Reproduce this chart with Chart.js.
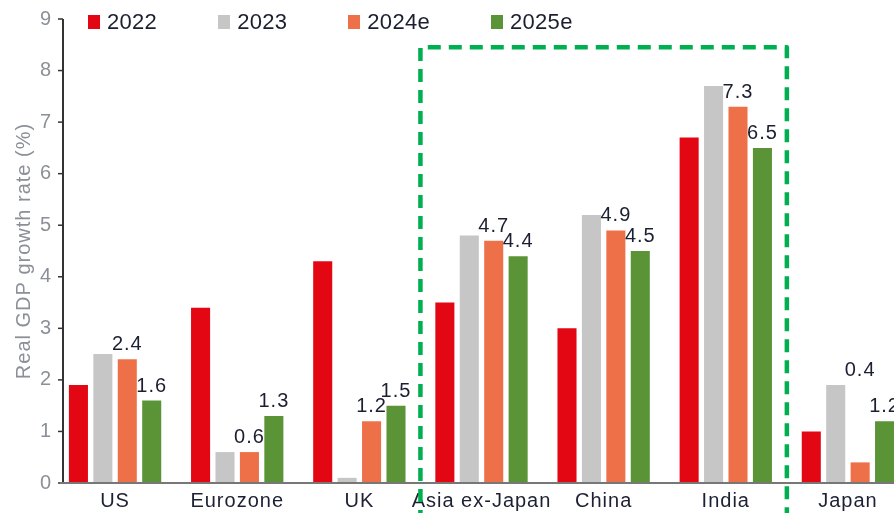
<!DOCTYPE html>
<html>
<head>
<meta charset="utf-8">
<script src="https://cdn.jsdelivr.net/npm/chart.js@4.4.1/dist/chart.umd.min.js"></script>
<style>
  html, body { margin: 0; padding: 0; overflow: hidden; background: #fff; }
  #wrap { position: relative; width: 894px; height: 513px; overflow: hidden; }
  #chart { position: absolute; left: 0; top: 0; }
  #legend {
    position: absolute; top: 11px; left: 88px;
    display: flex; gap: 61px;
    font: 22px "Liberation Sans", Arial, sans-serif; line-height: 22px;
    letter-spacing: 0.3px; color: #1b1f30;
  }
  #legend .item { display: flex; align-items: center; }
  #legend .box { width: 12px; height: 14px; margin-right: 7px; }
</style>
</head>
<body>
<div id="wrap">
  <canvas id="chart" width="909" height="513"></canvas>
  <div id="legend"></div>
</div>
<script>
// -----------------------------
// Data
// -----------------------------
const categories = ["US", "Eurozone", "UK", "Asia ex-Japan", "China", "India", "Japan"]
const seriesNames = ["2022", "2023", "2024e", "2025e"]

const gdp2022 = [1.9, 3.4, 4.3, 3.5, 3.0, 6.7, 1.0]
const gdp2023 = [2.5, 0.6, 0.1, 4.8, 5.2, 7.7, 1.9]
const gdp2024e = [2.4, 0.6, 1.2, 4.7, 4.9, 7.3, 0.4]
const gdp2025e = [1.6, 1.3, 1.5, 4.4, 4.5, 6.5, 1.2]

const yTicks = [0, 1, 2, 3, 4, 5, 6, 7, 8, 9]

// series that carry value labels, and the highlighted block of regions
const labelledSeries = ["2024e", "2025e"]
const boxFrom = "Asia ex-Japan"
const boxTo = "India"
const boxTop = 8.45

// -----------------------------
// Styles
// -----------------------------
const colors = ["#e30613", "#c6c6c6", "#ee7049", "#5b9337"]
const FONT = '"Liberation Sans", Arial, sans-serif'
Chart.defaults.font.family = FONT

// -----------------------------
// Legend (HTML)
// -----------------------------
const legendEl = document.getElementById("legend")
seriesNames.forEach((name, i) => {
  const item = document.createElement("div")
  item.className = "item"
  item.innerHTML = `<span class="box" style="background:${colors[i]}"></span><span>${name}</span>`
  legendEl.appendChild(item)
})

// -----------------------------
// Extras: axes lines, dashed box, value labels
// -----------------------------
const extras = {
  id: "extras",
  beforeDraw(chart) {
    chart.ctx.letterSpacing = "1px"
  },
  afterDatasetsDraw(chart) {
    const { ctx, chartArea, scales } = chart
    const x = scales.x, y = scales.y
    const axisX = chartArea.left + 9
    const y0 = y.getPixelForValue(0)

    ctx.save()
    // y axis line + ticks
    ctx.strokeStyle = "#333"
    ctx.lineWidth = 2
    ctx.beginPath()
    ctx.moveTo(axisX, y.getPixelForValue(yTicks[yTicks.length - 1]))
    ctx.lineTo(axisX, y0)
    ctx.stroke()
    ctx.lineWidth = 1.5
    yTicks.forEach(t => {
      const py = y.getPixelForValue(t)
      ctx.beginPath()
      ctx.moveTo(axisX - 5, py)
      ctx.lineTo(axisX, py)
      ctx.stroke()
    })

    // x axis line
    ctx.strokeStyle = "#777"
    ctx.lineWidth = 2
    ctx.beginPath()
    ctx.moveTo(axisX - 3, y0)
    ctx.lineTo(chartArea.right, y0)
    ctx.stroke()

    // dashed highlight box
    const bl = x.getPixelForValue(categories.indexOf(boxFrom) - 0.5)
    const br = x.getPixelForValue(categories.indexOf(boxTo) + 0.5)
    const bt = y.getPixelForValue(boxTop)
    ctx.strokeStyle = "#00b050"
    ctx.lineWidth = 4.5
    ctx.setLineDash([13, 8])
    ctx.lineJoin = "round"
    ctx.beginPath()
    ctx.moveTo(bl, chart.height + 10)
    ctx.lineTo(bl, bt)
    ctx.lineTo(br, bt)
    ctx.lineTo(br, chart.height + 10)
    ctx.stroke()
    ctx.setLineDash([])

    // value labels
    ctx.fillStyle = "#1b1f30"
    ctx.font = "20px " + FONT
    ctx.textAlign = "center"
    ctx.textBaseline = "alphabetic"
    const data = chart.data.datasets.map(d => d.data)
    chart.data.datasets.forEach((ds, i) => {
      if (!labelledSeries.includes(ds.label)) return
      const meta = chart.getDatasetMeta(i)
      meta.data.forEach((bar, j) => {
        const v = ds.data[j]
        let anchor = v
        ;[i - 1, i + 1].forEach(k => {
          if (data[k] && data[k][j] > v + 1) anchor = Math.max(anchor, data[k][j])
        })
        ctx.fillText(v.toFixed(1), bar.x, y.getPixelForValue(anchor) - 9)
      })
    })
    ctx.restore()
  }
}

// -----------------------------
// Chart
// -----------------------------
const seriesValues = [gdp2022, gdp2023, gdp2024e, gdp2025e]

new Chart(document.getElementById("chart"), {
  type: "bar",
  data: {
    labels: categories,
    datasets: seriesNames.map((name, i) => ({
      label: name,
      data: seriesValues[i],
      backgroundColor: colors[i],
      borderWidth: 0,
      barPercentage: 0.78,
      categoryPercentage: 0.8
    }))
  },
  options: {
    responsive: false,
    animation: false,
    layout: { padding: { top: 19, left: 0, right: 0, bottom: 0 } },
    plugins: {
      legend: { display: false },
      tooltip: { enabled: false }
    },
    scales: {
      x: {
        grid: { display: false, drawTicks: false },
        border: { display: false },
        ticks: {
          color: "#1c2033",
          font: { size: 20 },
          padding: 6,
          maxRotation: 0,
          autoSkip: false
        },
        afterFit: s => { s.height = 30 }
      },
      y: {
        min: 0,
        max: 9,
        grid: { display: false, drawTicks: false },
        border: { display: false },
        afterBuildTicks: s => { s.ticks = yTicks.map(v => ({ value: v })) },
        ticks: {
          color: "#8b9098",
          font: { size: 20 },
          padding: 2
        },
        title: {
          display: true,
          text: "Real GDP growth rate (%)",
          color: "#8b9098",
          font: { size: 20 },
          padding: { top: 12, bottom: 0 }
        },
        afterFit: s => { s.width = 54 }
      }
    }
  },
  plugins: [extras]
})
</script>
</body>
</html>
